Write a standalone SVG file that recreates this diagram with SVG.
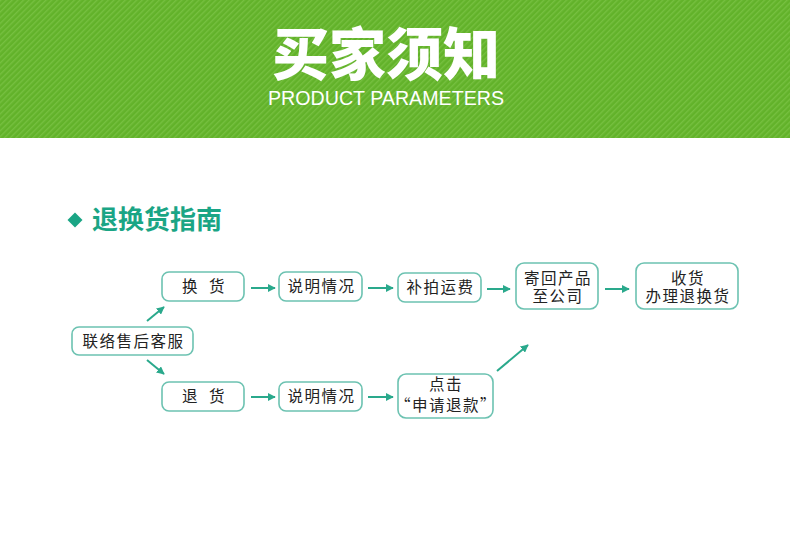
<svg xmlns="http://www.w3.org/2000/svg" width="790" height="538" viewBox="0 0 790 538">
<style>
.box{fill:#fff;stroke:#6cc2b1;stroke-width:1.6}
.t{font-family:"Noto Sans CJK SC","Noto Sans",sans-serif;font-size:15.5px;letter-spacing:1.5px;fill:#222;text-anchor:middle}
.c{stroke:#2aa98c;stroke-width:2;fill:none}
</style>
<defs>
<pattern id="stripes" patternUnits="userSpaceOnUse" width="4" height="4" patternTransform="rotate(45)">
<rect x="0" y="0" width="4" height="4" fill="#62b22a"/>
<rect x="0" y="0" width="1.4" height="4" fill="#76c040"/>
</pattern>
<marker id="ah" viewBox="0 0 10 10" refX="9" refY="5" markerWidth="4" markerHeight="4" orient="auto" markerUnits="strokeWidth">
<path d="M0,0 L10,5 L0,10 z" fill="#2aa98c"/>
</marker>
</defs>
<rect x="0" y="0" width="790" height="538" fill="#fff"/>
<rect x="0" y="0" width="790" height="138" fill="url(#stripes)"/>
<text x="386" y="75" font-family="'Noto Sans CJK SC',sans-serif" font-size="57" font-weight="900" fill="#fff" text-anchor="middle">买家须知</text>
<text x="386" y="105" font-family="'Liberation Sans',Arial,sans-serif" font-size="21" fill="#fff" text-anchor="middle" textLength="236" lengthAdjust="spacingAndGlyphs">PRODUCT PARAMETERS</text>
<g id="heading">
<path d="M75,212.5 L82.5,220 L75,227.5 L67.5,220 z" fill="#1aa585"/>
<text x="92" y="229" font-family="'Noto Sans CJK SC',sans-serif" font-size="26" font-weight="700" fill="#1aa585">退换货指南</text>
</g>
<g id="connectors">
<line class="c" x1="147" y1="321" x2="164" y2="307" marker-end="url(#ah)"/>
<line class="c" x1="147" y1="360" x2="164" y2="374" marker-end="url(#ah)"/>
<line class="c" x1="251" y1="288" x2="275" y2="288" marker-end="url(#ah)"/>
<line class="c" x1="368" y1="288" x2="393" y2="288" marker-end="url(#ah)"/>
<line class="c" x1="487" y1="289" x2="510" y2="289" marker-end="url(#ah)"/>
<line class="c" x1="605" y1="289" x2="629" y2="289" marker-end="url(#ah)"/>
<line class="c" x1="251" y1="397" x2="275" y2="397" marker-end="url(#ah)"/>
<line class="c" x1="368" y1="397" x2="393" y2="397" marker-end="url(#ah)"/>
<line class="c" stroke-width="2.5" x1="497" y1="371" x2="528" y2="345" marker-end="url(#ah)"/>
</g>
<g id="n-kefu"><rect class="box" x="72" y="327" width="121" height="28" rx="7"/><text class="t" x="133.5" y="347">联络售后客服</text></g>
<g id="n-huanhuo"><rect class="box" x="162" y="272" width="82" height="29" rx="7"/><text class="t" x="204" y="292" xml:space="preserve">换  货</text></g>
<g id="n-shuoming1"><rect class="box" x="279" y="272" width="83" height="29" rx="7"/><text class="t" x="321.5" y="292">说明情况</text></g>
<g id="n-bupai"><rect class="box" x="398" y="273" width="83" height="29" rx="7"/><text class="t" x="440.5" y="293">补拍运费</text></g>
<g id="n-jihui"><rect class="box" x="516" y="263" width="82" height="46" rx="8"/><text class="t" x="558" y="284">寄回产品</text><text class="t" x="558" y="302">至公司</text></g>
<g id="n-shouhuo"><rect class="box" x="636" y="263" width="102" height="46" rx="8"/><text class="t" x="688" y="284">收货</text><text class="t" x="688" y="302">办理退换货</text></g>
<g id="n-tuihuo"><rect class="box" x="162" y="382" width="82" height="29" rx="7"/><text class="t" x="204" y="402" xml:space="preserve">退  货</text></g>
<g id="n-shuoming2"><rect class="box" x="279" y="382" width="83" height="29" rx="7"/><text class="t" x="321.5" y="402">说明情况</text></g>
<g id="n-dianji"><rect class="box" x="398" y="374" width="95" height="44" rx="8"/><text class="t" x="446" y="390">点击</text><text class="t" x="446" y="410.5">“申请退款”</text></g>
</svg>
